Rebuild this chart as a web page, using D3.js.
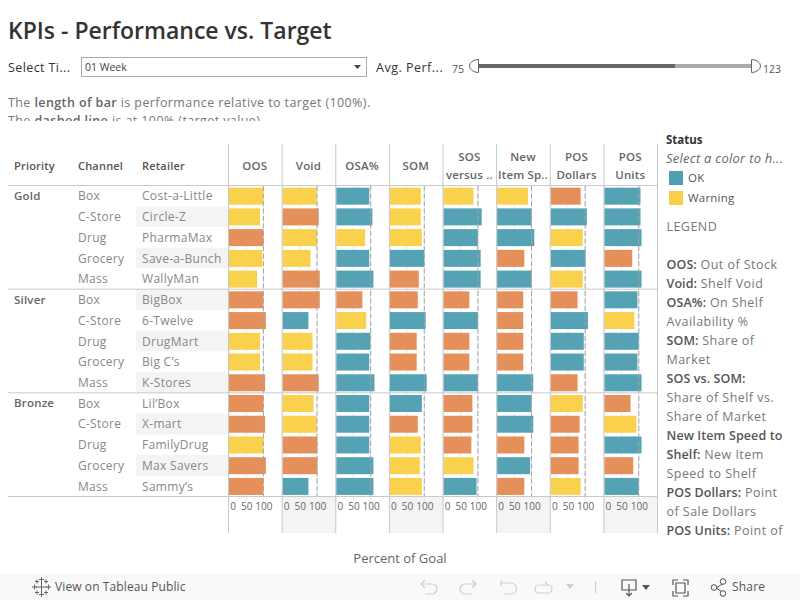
<!DOCTYPE html>
<html><head><meta charset="utf-8">
<script src="https://cdn.jsdelivr.net/npm/d3@7/dist/d3.min.js"></script>
<style>
html,body{margin:0;padding:0;background:#fff;overflow:hidden}
svg{display:block}
text{font-family:"Open Sans","Noto Sans",sans-serif}
</style></head><body><div id="c"></div>
<script>
const priorities = ["Gold","Silver","Bronze"];
const channels = ["Box","C-Store","Drug","Grocery","Mass"];
const retailers = ["Cost-a-Little","Circle-Z","PharmaMax","Save-a-Bunch","WallyMan","BigBox","6-Twelve","DrugMart","Big C\u2019s","K-Stores","Lil\u2019Box","X-mart","FamilyDrug","Max Savers","Sammy\u2019s"];
const kpis = [["OOS"],["Void"],["OSA%"],["SOM"],["SOS","versus .."],["New","Item Sp.."],["POS","Dollars"],["POS","Units"]];
const oosVals  = [100,90,100,97,82,100,107,90,90,105,100,105,100,107,100];
const voidVals = [99,105,100,81,108,108,75,87,87,105,90,99,101,101,75];
const osaVals  = [96,105,84,96,108,76,87,99,96,111,96,96,96,108,108];
const somVals  = [90,90,93,100,84,81,104,78,78,107,93,81,90,87,93];
const sosVals  = [87,111,100,108,108,75,100,75,75,100,84,84,81,87,96];
const newVals  = [90,100,108,79,100,76,76,76,76,105,100,105,79,96,79];
const dolVals  = [87,105,93,101,93,78,108,96,96,78,93,84,81,81,87];
const unitVals = [105,105,108,81,108,96,87,100,96,108,76,93,108,84,100];
const oosStat  = "YYOYYOOYYOOOYOO";
const voidStat = "YOYYOOTYYOYYOOT";
const osaStat  = "TTYTTOYTTTTTTTT";
const somStat  = "YYYTOOTOOTTOYYY";
const sosStat  = "YTTTTOTOOTOOOYT";
const newStat  = "YTTOTOOOOTTTOTO";
const dolStat  = "OTYTYOTTTOYOOOY";
const unitStat = "TTTOTTYTTTOYTOT";
const allVals = [oosVals,voidVals,osaVals,somVals,sosVals,newVals,dolVals,unitVals];
const allStat = [oosStat,voidStat,osaStat,somStat,sosStat,newStat,dolStat,unitStat];
const axisTicks = [0,50,100];
const statusColor = {T:"#4f9fb3",Y:"#f9cf47",O:"#e48b55"};
const legendEntries = [["OK","T"],["Warning","Y"]];
const legendLines = [
 [["LEGEND",0]],[],
 [["OOS:",1],[" Out of Stock",0]],
 [["Void:",1],[" Shelf Void",0]],
 [["OSA%:",1],[" On Shelf",0]],
 [["Availability %",0]],
 [["SOM:",1],[" Share of",0]],
 [["Market",0]],
 [["SOS vs. SOM:",1]],
 [["Share of Shelf vs.",0]],
 [["Share of Market",0]],
 [["New Item Speed to",1]],
 [["Shelf:",1],[" New Item",0]],
 [["Speed to Shelf",0]],
 [["POS Dollars:",1],[" Point",0]],
 [["of Sale Dollars",0]],
 [["POS Units:",1],[" Point of",0]]
];

const W=800,H=600;
const svg=d3.select("#c").append("svg").attr("width",W).attr("height",H);
const line="#c9c9c9";
const T=(x,y,s,o={},p=svg)=>p.append("text").attr("x",x).attr("y",y).text(s)
  .attr("font-size",o.size||12).attr("fill",o.fill||"#666").attr("font-weight",o.w||400)
  .attr("font-style",o.i||"normal").attr("text-anchor",o.a||"start")
  .attr("letter-spacing",o.ls||0);
const R=(x,y,w,h,f,p=svg)=>p.append("rect").attr("x",x).attr("y",y).attr("width",w).attr("height",h).attr("fill",f);
const P=(d,s,sw=1,f="none",p=svg)=>p.append("path").attr("d",d).attr("stroke",s).attr("stroke-width",sw).attr("fill",f);

// Title and controls
T(8,39,"KPIs - Performance vs. Target",{size:23,w:600,fill:"#333"});
T(8,72,"Select Ti...",{size:12.5,fill:"#333",ls:0.4});
svg.append("rect").attr("x",81.5).attr("y",57.5).attr("width",285).attr("height",19).attr("fill","#fff").attr("stroke","#aaa");
T(85,71,"01 Week",{size:10.5,fill:"#444"});
P("M354 65h7l-3.5 4z","none",0,"#444");
T(376,72,"Avg. Perf...",{size:12.5,fill:"#333",ls:0.5});
T(452,73,"75",{size:10.5,fill:"#555"});
T(763,73,"123",{size:10.5,fill:"#555"});
R(478,64,197,4,"#666");
R(675,64,77,4,"#aaa");
P("M478.5 59.5v13a9 6.5 0 0 1 0-13z","#666",1,"#fff");
P("M751.5 59.5v13a9 6.5 0 0 0 0-13z","#666",1,"#fff");

// Description, clipped
svg.append("clipPath").attr("id","descClip").append("rect").attr("x",0).attr("y",90).attr("width",660).attr("height",31);
const desc=svg.append("g").attr("clip-path","url(#descClip)");
[[["The ",0],["length of bar",1],[" is performance relative to target (100%).",0]],
 [["The ",0],["dashed line",1],[" is at 100% (target value).",0]]].forEach((l,i)=>{
  const t=desc.append("text").attr("x",8).attr("y",107+i*18).attr("font-size",12.5).attr("fill","#777").attr("letter-spacing",0.4);
  l.forEach(([s,b])=>t.append("tspan").text(s).attr("font-weight",b?600:400).attr("fill",b?"#666":"#777"));
});

// Layout scales
const colX=d3.scaleBand().domain(d3.range(kpis.length)).range([228.5,657.5]);
const y=d3.scaleBand().domain(retailers).range([185.5,496.5]);
const barH=17;
const unit=34.4/100;

// Shading
retailers.forEach((r,i)=>{ if(i%2===1) R(136,y(r),92.5,y.bandwidth(),"#f4f4f4"); });
[1,3,5,7].forEach(k=>R(colX(k),496.5,colX.bandwidth(),36.5,"#f4f4f4"));

// Panes
kpis.forEach((k,ki)=>{
  const x0=colX(ki)+0.5;
  const x=d3.scaleLinear().domain([0,100]).range([x0,x0+100*unit]);
  const g=svg.append("g");
  g.selectAll("line.grid").data(axisTicks).join("line").attr("class","grid")
    .attr("x1",d=>x(d)).attr("x2",d=>x(d)).attr("y1",185.5).attr("y2",502)
    .attr("stroke","#ebebeb");
  g.selectAll("rect.bar").data(retailers).join("rect").attr("class","bar")
    .attr("x",x(0)).attr("y",d=>y(d)+(y.bandwidth()-barH)/2+0.3)
    .attr("width",(d,i)=>x(allVals[ki][i])-x(0)).attr("height",barH)
    .attr("fill",(d,i)=>statusColor[allStat[ki][i]]).attr("fill-opacity",0.97);
  g.append("line").attr("x1",x(100)).attr("x2",x(100)).attr("y1",186).attr("y2",496.5)
    .attr("stroke","#a5a5a5").attr("stroke-width",1).attr("stroke-dasharray","5,2.5");
  const ax=svg.append("g").attr("transform","translate(0,496.5)")
    .call(d3.axisBottom(x).tickValues(axisTicks).tickSize(0).tickPadding(6));
  ax.select(".domain").remove();
  ax.selectAll("text").attr("font-size",10).attr("fill","#666")
    .attr("font-family","'Open Sans',sans-serif")
    .attr("dx",d=>d===0?3.5:0);
  // Headers
  const cx=colX(ki)+colX.bandwidth()/2-0.5;
  k.forEach((s,i)=>T(cx,(k.length===1?170:161)+i*18,s,{size:11.5,w:600,fill:"#666",a:"middle",ls:0.15}));
});

// Rules
[0,5,10,15].forEach(i=>{
  const yy=i<15?y(retailers[i]):y.range()[1];
  svg.append("line").attr("x1",8).attr("x2",657.5).attr("y1",yy).attr("y2",yy).attr("stroke",line);
});
d3.range(kpis.length+1).forEach(i=>{
  const xx=i<kpis.length?colX(i):colX.range()[1];
  svg.append("line").attr("x1",xx).attr("x2",xx).attr("y1",144).attr("y2",533).attr("stroke",line);
});

// Row headers
[["Priority",14],["Channel",78],["Retailer",142]].forEach(([s,x])=>T(x,170,s,{size:11,w:600,fill:"#555",ls:0.2}));
priorities.forEach((p,i)=>T(14,y(retailers[i*5])+14.5,p,{size:11.5,w:600,fill:"#666",ls:0.2}));
retailers.forEach((r,i)=>{
  const by=y(r)+y.bandwidth()/2+4.5;
  T(78,by,channels[i%5],{size:12,fill:"#888",ls:0.3});
  T(142,by,r,{size:12,fill:"#888",ls:0.3});
});

// Status legend
T(666,144,"Status",{size:11.5,w:700,fill:"#333"});
T(666,163,"Select a color to h...",{size:13,i:"italic",fill:"#666",ls:0.25});
legendEntries.forEach(([s,c],i)=>{
  R(669,171+i*20,14,14,statusColor[c]);
  T(688,182+i*20,s,{size:11.5,fill:"#555",ls:0.2});
});
legendLines.forEach((l,i)=>{
  const t=svg.append("text").attr("x",666.5).attr("y",231+i*19).attr("font-size",12.5).attr("fill","#777");
  l.forEach(([s,b])=>t.append("tspan").text(s).attr("font-weight",b?600:400).attr("fill",b?"#555":"#777").attr("letter-spacing",b?0.1:0.45).attr("xml:space","preserve"));
});

// Footer
T(400,563,"Percent of Goal",{size:13,fill:"#666",a:"middle"});
R(0,573,800,27,"#f9f9f9");
const logo=svg.append("g").attr("stroke","#666").attr("stroke-width",1);
[[41.5,0,6],[34.5,0,2.5],[48.5,0,2.5],[37,-5.5,2],[46,-5.5,2],[37,5.5,2],[46,5.5,2],[41.5,-7.5,2.5],[41.5,7.5,2.5]].forEach(([x,dy,r])=>{
  logo.append("line").attr("x1",x-r).attr("x2",x+r).attr("y1",587+dy).attr("y2",587+dy);
  logo.append("line").attr("x1",x).attr("x2",x).attr("y1",587+dy-r).attr("y2",587+dy+r);
});
T(55,591,"View on Tableau Public",{size:12,w:500,fill:"#555",ls:0.1});
const g1="#cfcfcf";
P("M421 584h11a5 5 0 0 1 0 10h-7M421 584l4-4M421 584l4 4",g1,1.2);
P("M476 584h-11a5 5 0 0 0 0 10h7M476 584l-4-4M476 584l-4 4",g1,1.2);
P("M501 580v6M501 583h10a5.5 5.5 0 0 1 0 11h-7",g1,1.2);
P("M540 585h8a4 4 0 0 1 0 8h-9a4 4 0 0 1 0-8M548 585l-3-3",g1,1.2);
P("M566 584h8l-4 5z","none",0,g1);
P("M595.5 581v12",g1,1.2);
P("M622 580h14v10h-14zM629 584v12M626 593l3 3 3-3","#555",1.2);
P("M642 585h8l-4 5z","none",0,"#555");
P("M673 585v-5h5M688 585v-5h-5M673 591v5h5M688 591v5h-5","#555",1.2);
P("M676 583h9v10h-9z","#555",1.2);
P("M716 588l8-5M716 588l8 5","#555",1);
[[714,587.5],[723,581.5],[723,593.5]].forEach(([x,yy])=>svg.append("circle").attr("cx",x).attr("cy",yy).attr("r",2.8).attr("fill","#f9f9f9").attr("stroke","#555"));
T(732,591,"Share",{size:12,w:500,fill:"#555",ls:0.2});
</script></body></html>
